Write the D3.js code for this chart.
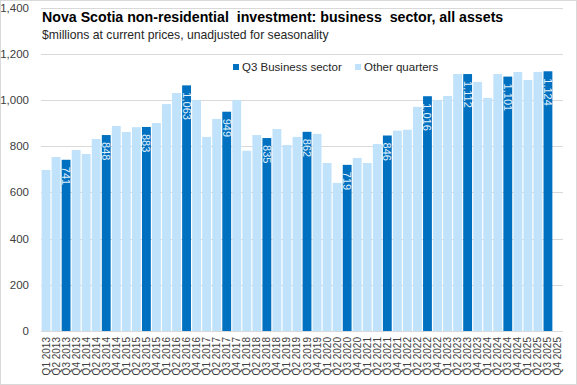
<!DOCTYPE html>
<html>
<head>
<meta charset="utf-8">
<script src="https://cdn.jsdelivr.net/npm/d3@7"></script>
<style>
  body { margin: 0; background: #fff; }
  svg { display: block; }
</style>
</head>
<body>
<div id="chart"></div>
<script>
// Nova Scotia non-residential investment, business sector, quarterly ($ millions)
const years = [2013, 2014, 2015, 2016, 2017, 2018, 2019, 2020, 2021, 2022, 2023, 2024, 2025];
const quarterNames = ["Q1", "Q2", "Q3", "Q4"];
const quarters = years.flatMap(y => quarterNames.map(q => q + " " + y));

// values in quarter order; null = not yet published
const values = [
  697, 753, 741, 783,
  766, 831, 848, 887,
  861, 882, 883, 900,
  982, 1030, 1063, 1000,
  840, 918, 949, 1000,
  780, 848, 835, 874,
  805, 840, 862, 853,
  727, 641, 719, 749,
  727, 809, 846, 867,
  871, 970, 1016, 1000,
  1017, 1112, 1112, 1078,
  1009, 1112, 1101, 1121,
  1086, 1121, 1124, null
];
const yTicks = [0, 200, 400, 600, 800, 1000, 1200, 1400];
const legendItems = ["Q3 Business sector", "Other quarters"];

const W = 577, H = 385;
const margin = { top: 7.5, right: 14, bottom: 54, left: 41 };
const darkBlue = "#0070c0", lightBlue = "#c0e2fa";

const svg = d3.select("#chart").append("svg")
  .attr("width", W)
  .attr("height", H)
  .style("font-family", "'Liberation Sans', Arial, sans-serif");

// outer frame
svg.append("rect")
  .attr("x", 0.5).attr("y", 0.5)
  .attr("width", W - 1).attr("height", H - 1)
  .attr("fill", "#fff")
  .attr("stroke", "#d9d9d9");

const x = d3.scaleBand()
  .domain(quarters)
  .range([margin.left, W - margin.right])
  .paddingInner(0.12)
  .paddingOuter(0.06);

const y = d3.scaleLinear()
  .domain([0, 1400])
  .range([H - margin.bottom, margin.top]);

// gridlines
svg.append("g")
  .selectAll("line")
  .data(yTicks)
  .join("line")
  .attr("x1", margin.left)
  .attr("x2", W - margin.right)
  .attr("y1", d => Math.round(y(d)) + 0.5)
  .attr("y2", d => Math.round(y(d)) + 0.5)
  .attr("stroke", "#d9d9d9");

// y axis labels
svg.append("g")
  .selectAll("text")
  .data(yTicks)
  .join("text")
  .attr("x", 29)
  .attr("y", d => y(d) + 4)
  .attr("text-anchor", "end")
  .style("font-size", "11.5px")
  .attr("fill", "#404040")
  .text(d => d3.format(",")(d));

const rows = quarters.map((q, i) => ({ q, v: values[i], q3: q.startsWith("Q3") }))
  .filter(d => d.v != null);

// bars
svg.append("g")
  .selectAll("rect")
  .data(rows)
  .join("rect")
  .attr("x", d => x(d.q))
  .attr("width", x.bandwidth())
  .attr("y", d => y(d.v))
  .attr("height", d => y(0) - y(d.v))
  .attr("fill", d => d.q3 ? darkBlue : lightBlue);

// value labels inside Q3 bars, rotated
svg.append("g")
  .selectAll("text")
  .data(rows.filter(d => d.q3))
  .join("text")
  .attr("transform", d => `translate(${x(d.q) + x.bandwidth() / 2 - 4},${y(d.v) + 7}) rotate(90)`)
  .attr("text-anchor", "start")
  .style("font-size", "11px")
  .attr("fill", "#e3f1fc")
  .text(d => d3.format(",")(d.v));

// x axis labels
svg.append("g")
  .selectAll("text")
  .data(quarters)
  .join("text")
  .attr("transform", d => `translate(${x(d) + x.bandwidth() / 2 + 3.5},${H - margin.bottom + 6}) rotate(-90)`)
  .attr("text-anchor", "end")
  .style("font-size", "10px")
  .attr("fill", "#404040")
  .text(d => d);

// title + subtitle
svg.append("text")
  .attr("x", 42).attr("y", 22)
  .style("font-family", "'Liberation Sans Narrow', 'Liberation Sans', sans-serif")
  .style("font-size", "14.2px")
  .style("font-weight", "bold")
  .style("white-space", "pre")
  .attr("fill", "#000")
  .text("Nova Scotia non-residential  investment: business  sector, all assets");

svg.append("text")
  .attr("x", 42).attr("y", 39)
  .style("font-family", "'Liberation Sans Narrow', 'Liberation Sans', sans-serif")
  .style("font-size", "12.2px")
  .attr("fill", "#262626")
  .text("$millions at current prices, unadjusted for seasonality");

// legend
const legendX = [233, 355];
const legend = svg.append("g")
  .selectAll("g")
  .data(legendItems)
  .join("g")
  .attr("transform", (d, i) => `translate(${legendX[i]},63)`);

legend.append("rect")
  .attr("width", 6).attr("height", 6)
  .attr("y", 1)
  .attr("fill", (d, i) => i === 0 ? darkBlue : lightBlue);

legend.append("text")
  .attr("x", 9).attr("y", 8)
  .style("font-size", "11.5px")
  .attr("fill", "#262626")
  .text(d => d);
</script>
</body>
</html>
